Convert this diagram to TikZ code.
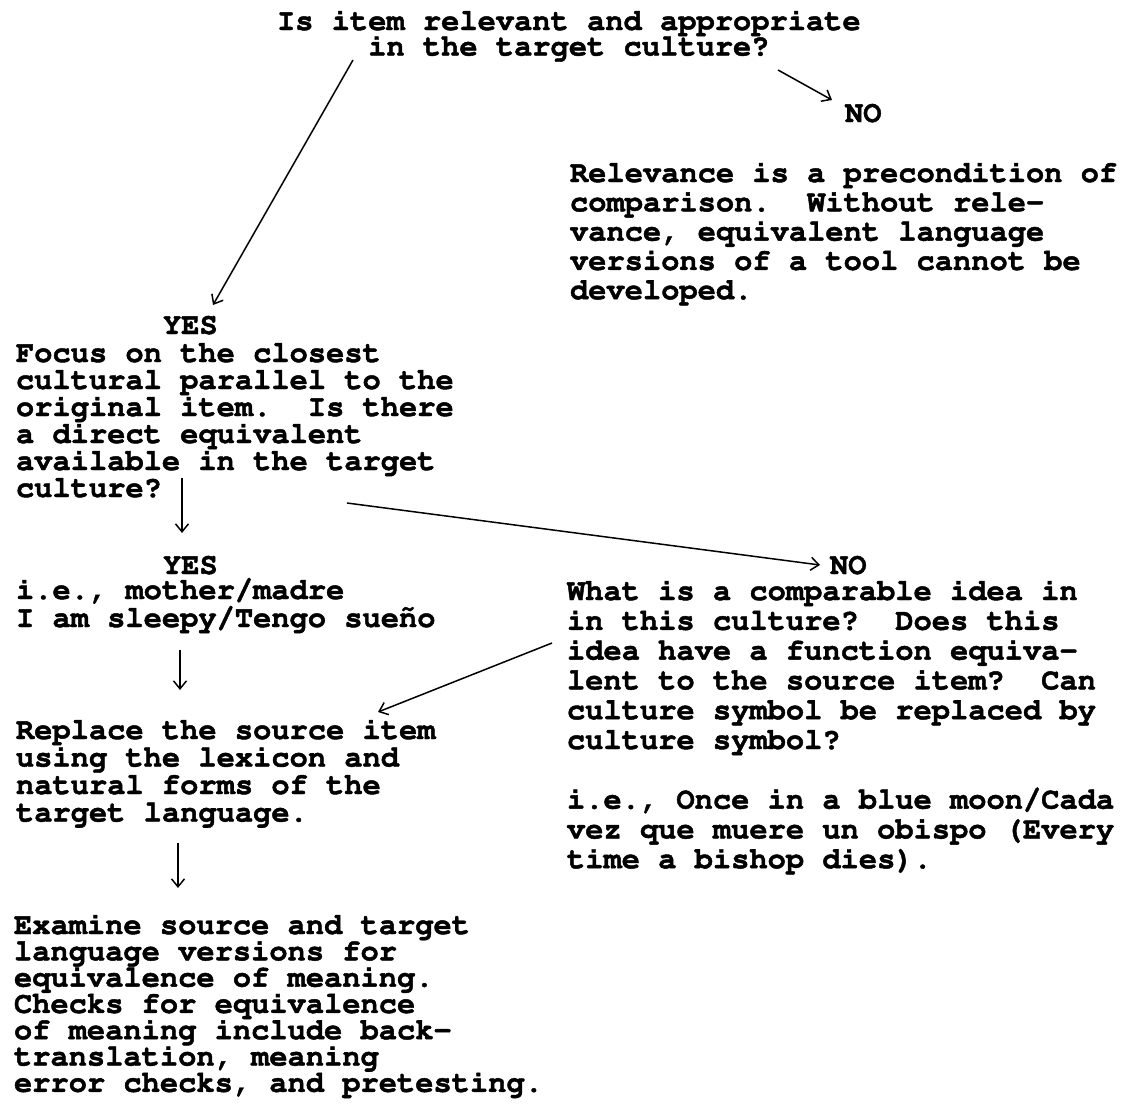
\documentclass[tikz,border=0pt]{standalone}
\usepackage[T1]{fontenc}
\renewcommand\ttdefault{pcr}
\usetikzlibrary{arrows.meta}
\newcommand\txtblock[2]{\parbox[t]{700pt}{\fontsize{30.4}{#1}\selectfont\lineskiplimit=-1000pt\frenchspacing\raggedright\leavevmode\special{pdf:literal direct 2 Tr 0.45 w}#2}}
\tikzset{
 txt/.style={anchor=base west, inner sep=0pt, outer sep=0pt, font=\ttfamily\bfseries},
 arr/.style={line width=1.5pt, -{Straight Barb[length=8pt,width=13pt,line width=1.5pt]}},
}
\begin{document}
\begin{tikzpicture}[x=1pt,y=-1pt]
\useasboundingbox (0,0) rectangle (1124,1119);
\node[txt] (q1) at (277,30) {\txtblock{25.5}{Is item relevant and appropriate\\\hspace*{91.2pt}in the target culture?}};
\node[txt] (no1) at (845,122) {\txtblock{27}{NO}};
\node[txt] (rel) at (570,182) {\txtblock{29.3}{Relevance is a precondition of\\comparison.~ Without rele-\\vance, equivalent language\\versions of a tool cannot be\\developed.}};
\node[txt] (yes1) at (163,334) {\txtblock{27}{YES}};
\node[txt] (focus) at (16,362) {\txtblock{27}{Focus on the closest\\cultural parallel to the\\original item.~ Is there\\a direct equivalent\\available in the target\\culture?}};
\node[txt] (yes2) at (163,574) {\txtblock{27}{YES}};
\node[txt] (no2) at (830,574) {\txtblock{27}{NO}};
\node[txt] (ex1) at (16,599) {\txtblock{28}{i.e., mother/madre\\I am sleepy/Tengo sue\~no}};
\node[txt] (repl) at (16,739) {\txtblock{27.5}{Replace the source item\\using the lexicon and\\natural forms of the\\target language.}};
\node[txt] (exam) at (14,934) {\txtblock{26.3}{Examine source and target\\language versions for\\equivalence of meaning.\\Checks for equivalence\\of meaning include back-\\translation, meaning\\error checks, and pretesting.}};
\node[txt] (what) at (567,600) {\txtblock{29.8}{What is a comparable idea in\\in this culture?~ Does this\\idea have a function equiva-\\lent to the source item?~ Can\\culture symbol be replaced by\\culture symbol?\\[29.8pt]i.e., Once in a blue moon/Cada\\vez que muere un obispo (Every\\time a bishop dies).}};
\coordinate (s1) at (353,60); \coordinate (t1) at (213,305);
\coordinate (s2) at (778,70); \coordinate (t2) at (832,100);
\coordinate (s3) at (182,478); \coordinate (t3) at (182,533);
\coordinate (s4) at (347,503); \coordinate (t4) at (820,565);
\coordinate (s5) at (552,643); \coordinate (t5) at (378,712);
\coordinate (s6) at (180,650); \coordinate (t6) at (180,690);
\coordinate (s7) at (178,843); \coordinate (t7) at (178,888);
\draw[arr] (s1) -- (t1);
\draw[arr] (s2) -- (t2);
\draw[arr] (s3) -- (t3);
\draw[arr] (s4) -- (t4);
\draw[arr] (s5) -- (t5);
\draw[arr] (s6) -- (t6);
\draw[arr] (s7) -- (t7);
\end{tikzpicture}
\end{document}
